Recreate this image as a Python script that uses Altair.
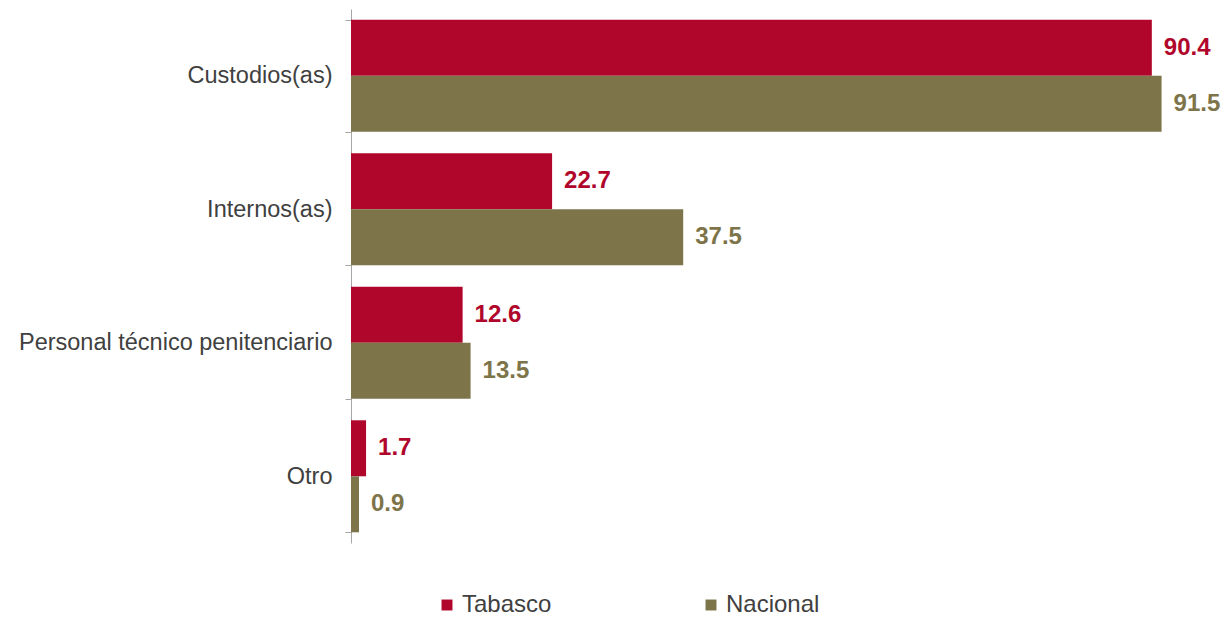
import altair as alt
import pandas as pd

categories = ["Custodios(as)", "Internos(as)", "Personal técnico penitenciario", "Otro"]
series = ["Tabasco", "Nacional"]
tabasco = [90.4, 22.7, 12.6, 1.7]
nacional = [91.5, 37.5, 13.5, 0.9]
colors = ["#B1062C", "#7E744A"]

rows = []
for c, t, n in zip(categories, tabasco, nacional):
    rows.append({"cat": c, "serie": "Tabasco", "valor": t, "label": f"{t:.1f}"})
    rows.append({"cat": c, "serie": "Nacional", "valor": n, "label": f"{n:.1f}"})
df = pd.DataFrame(rows)

font = "Liberation Sans"
yenc = alt.Y("cat:N", sort=categories, title=None,
             scale=alt.Scale(paddingInner=0.161, paddingOuter=0.08),
             axis=alt.Axis(labelFont=font, labelFontSize=23.5, labelColor="#404040",
                           domainColor="#A6A6A6", tickColor="#A6A6A6", tickSize=6,
                           labelPadding=13, tickBand="extent", labelLimit=500))
yoff = alt.YOffset("serie:N", sort=series, scale=alt.Scale(paddingInner=0, paddingOuter=0))
xenc = alt.X("valor:Q", scale=alt.Scale(domain=[0, 92], nice=False), axis=None)
color = alt.Color("serie:N", sort=series,
                  scale=alt.Scale(domain=series, range=colors),
                  legend=alt.Legend(title=None, orient="none", direction="horizontal",
                                    legendX=84, legendY=584, columns=2, columnPadding=147,
                                    symbolType="square", symbolSize=120, symbolStrokeWidth=0,
                                    labelFont=font, labelFontSize=24, labelColor="#404040",
                                    labelOffset=3))

bars = alt.Chart(df).mark_bar(size=56, clip=False).encode(y=yenc, yOffset=yoff, x=xenc, color=color)
text = alt.Chart(df).mark_text(align="left", baseline="middle", dx=12, font=font,
                               fontSize=24, fontWeight="bold").encode(
    y=alt.Y("cat:N", sort=categories), yOffset=yoff, x="valor:Q", text="label:N",
    color=alt.Color("serie:N", sort=series, scale=alt.Scale(domain=series, range=colors), legend=None))

chart = (bars + text).properties(
    width=815, height=534,
    autosize=alt.AutoSizeParams(type="none"),
    padding={"left": 343, "top": 1, "right": 56, "bottom": 74},
).configure_view(stroke=None)

chart.save("out.html", embed_options={"renderer": "svg", "actions": False})
